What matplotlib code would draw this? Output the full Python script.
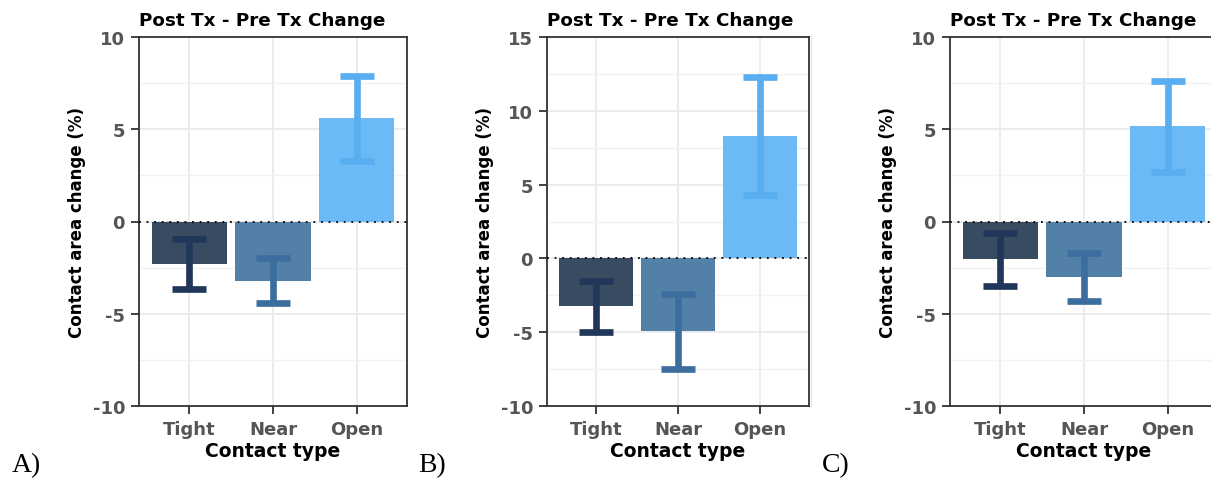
import numpy as np
import matplotlib
matplotlib.use("Agg")
import matplotlib.pyplot as plt
from matplotlib.lines import Line2D
from matplotlib.ticker import MultipleLocator

plt.rcParams['font.family'] = ['DejaVu Sans']
plt.rcParams['axes.unicode_minus'] = False

# Data
contact_types = ["Tight", "Near", "Open"]

means_a = [-2.3, -3.2, 5.6]
err_a = [1.35, 1.2, 2.3]

means_b = [-3.25, -4.95, 8.3]
err_b = [1.75, 2.55, 4.0]

means_c = [-2.05, -3.0, 5.15]
err_c = [1.45, 1.3, 2.45]

ylims = [(-10, 10), (-10, 15), (-10, 10)]
panel_labels = ["A)", "B)", "C)"]

bar_colors = ["#394b60", "#5280a6", "#6cbaf5"]
err_colors = ["#20365a", "#3b6e9e", "#58aef0"]

W, H = 1211, 481
fig = plt.figure(figsize=(W / 100, H / 100), dpi=100)

# axes boxes in pixels: left, right, top, bottom
boxes = [(139, 407, 38, 407), (547, 809, 38, 407), (950, 1218, 38, 407)]
label_x = [12, 418, 822]

panels = [(means_a, err_a), (means_b, err_b), (means_c, err_c)]

for i, (means, errs) in enumerate(panels):
    l, r, t, b = boxes[i]
    ax = fig.add_axes([l / W, 1 - b / H, (r - l) / W, (b - t) / H])
    x = np.arange(len(contact_types))

    ax.bar(x, means, width=0.9, color=bar_colors, zorder=2)
    for xi, m, e, c in zip(x, means, errs, err_colors):
        ax.errorbar(xi, m, yerr=e, color=c, elinewidth=4.8, capsize=12.5,
                    capthick=4.8, zorder=3)
    ax.axhline(0, color="black", linestyle=(0, (1, 3.2)), linewidth=1.3, zorder=4)

    ax.set_xlim(-0.6, 2.6)
    ax.set_ylim(*ylims[i])
    ax.set_xticks(x)
    ax.set_xticklabels(contact_types)
    ax.yaxis.set_major_locator(MultipleLocator(5))
    ax.yaxis.set_minor_locator(MultipleLocator(2.5))

    ax.grid(True, which="major", color="#ebebeb", linewidth=1.3, zorder=0)
    ax.grid(True, which="minor", axis="y", color="#f2f2f2", linewidth=1.0, zorder=0)
    ax.set_axisbelow(True)

    for s in ax.spines.values():
        s.set_color("#333333")
        s.set_linewidth(1.3)

    ax.tick_params(axis="both", which="major", length=6, width=1.3, color="#333333",
                   labelsize=13, labelcolor="#555555", pad=4)
    ax.tick_params(axis="y", which="minor", length=0)
    for lab in ax.get_xticklabels() + ax.get_yticklabels():
        lab.set_fontweight("bold")

    ax.set_title("Post Tx - Pre Tx Change", fontsize=13.2, fontweight="bold",
                 pad=9, loc="left")
    ax.set_xlabel("Contact type", fontsize=13.5, fontweight="bold", labelpad=2)
    ax.set_ylabel("Contact area change (%)", fontsize=12, fontweight="bold", labelpad=5)

    fig.text(label_x[i] / W, 1 - 478 / H, panel_labels[i], fontsize=20,
             family="Liberation Serif", ha="left", va="bottom")

# faint edge of the cropped third panel
fig.add_artist(Line2D([811 / W, 811 / W], [1 - 407 / H, 1 - 37 / H],
                      color="#e6e6e6", linewidth=1.0))

fig.savefig("out.png", dpi=100)
